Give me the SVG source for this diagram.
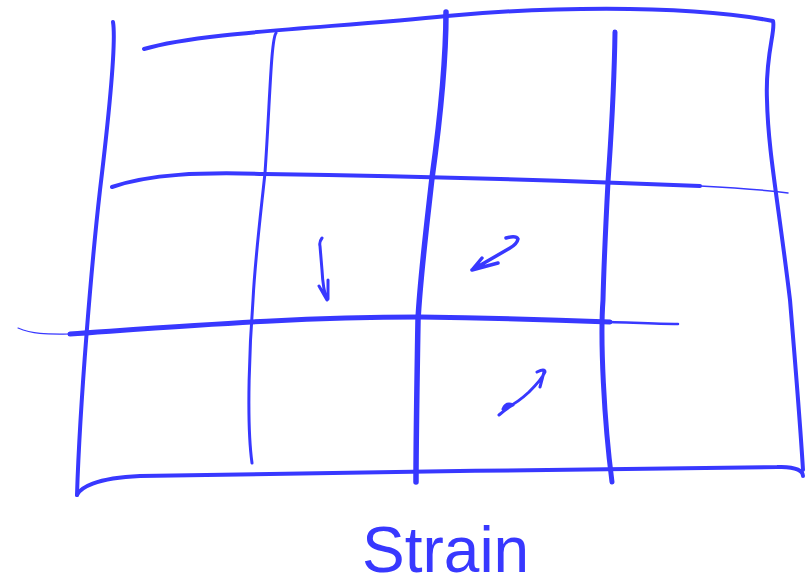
<svg xmlns="http://www.w3.org/2000/svg" width="808" height="587" viewBox="0 0 808 587">
<style>
.s{fill:none;stroke:#3838ff;stroke-linecap:round;stroke-linejoin:round}
.t{font-family:"Liberation Sans",Arial,sans-serif;font-size:64px;fill:#3838ff}
</style>
<rect width="808" height="587" fill="#ffffff"/>
<g id="frame">
<path class="s" stroke-width="4" d="M113,22 C116,40 112,90 100,190 C92,260 80,400 77,495"/>
<path class="s" stroke-width="4" d="M144,49 C200,32 330,28 447,16 C530,8 680,3 773,21 C776,30 765,55 767,100 C768,150 778,200 790,300 C795,360 800,420 803,470"/>
<path class="s" stroke-width="4" d="M77,495 C80,488 95,478 140,476 C300,472 600,470 777,467 C798,466 803,472 803,476"/>
</g>
<g id="grid">
<path class="s" stroke-width="4" d="M112,187 C150,174 200,172 265,174 C400,176 560,180 700,186"/>
<path class="s" stroke-width="1.5" d="M700,186 C740,188 765,190 788,193"/>
<path class="s" stroke-width="1.2" d="M18,328 C35,335 50,334 70,334"/>
<path class="s" stroke-width="5" d="M70,334 C200,325 300,317 420,317 C500,318 560,320 610,322"/>
<path class="s" stroke-width="2.5" d="M610,322 C640,323 660,324 678,324"/>
<path class="s" stroke-width="3" d="M276,33 C271,40 270,100 265,173 C260,220 255,260 253,300 C250,340 246,420 252,463"/>
<path class="s" stroke-width="5.5" d="M446,12 C446,60 440,120 432,178 C425,240 420,280 418,320 C417,380 416,440 416,482"/>
<path class="s" stroke-width="5" d="M615,32 C614,100 610,150 608,182 C606,220 604,260 603,300 C600,340 604,420 612,482"/>
</g>
<g id="arrows">
<path class="s" stroke-width="3" d="M322,238 Q319,242 320,246 L322,270 Q323,290 327,300 M319,286 L327,300 M328,280 L328,299"/>
<path class="s" stroke-width="3.5" d="M506,238 Q516,235 518,239 Q517,244 510,248 L472,270 M472,270 L482,258 M472,270 L498,263"/>
<path class="s" stroke-width="3" d="M499,415 Q507,408 513,405 Q506,402 503,409 Q515,405 529,392 Q542,379 545,372 Q545,368 537,372 M544,372 L540,387"/>
</g>
<g id="label">
<text class="t" x="362" y="572">Strain</text>
</g>
</svg>
